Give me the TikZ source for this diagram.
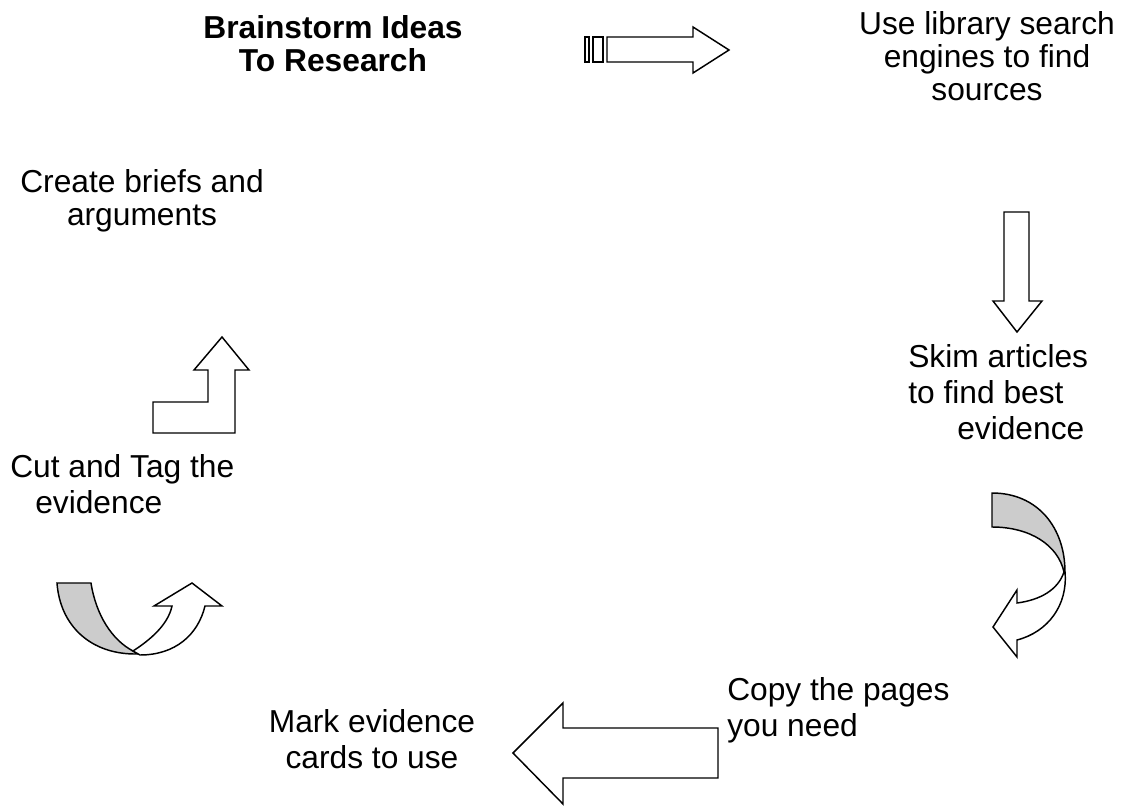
\documentclass[tikz,border=0pt]{standalone}
\usepackage{fontspec}
\setmainfont{Liberation Sans}
\definecolor{bandgray}{HTML}{CCCCCC}
\tikzset{
  steptext/.style={inner sep=0pt, anchor=north, font=\fontsize{23.8}{27}\selectfont},
  blockarrow/.style={draw=black, line width=1.1pt, line join=miter, fill=white},
  bandarrow/.style={draw=black, line width=1.1pt, fill=bandgray}
}
\begin{document}
\begin{tikzpicture}[x=0.75pt,y=-0.75pt]
\useasboundingbox (0,0) rectangle (1140,806);
% texts
\node[steptext, align=center, font=\fontsize{23.8}{24.8}\selectfont\bfseries] (brain) at (333,15){Brainstorm Ideas\\To Research};
\node[steptext, align=center, font=\fontsize{23.8}{24.8}\selectfont] (library) at (987,11){Use library search\\engines to find\\sources};
\node[steptext, align=center, font=\fontsize{23.8}{24.8}\selectfont] (briefs) at (142,169){Create briefs and\\arguments};
\node[steptext, align=left, anchor=north west] (skim) at (908,344){Skim articles\\to find best\\\hspace*{36.75pt}evidence};
\node[steptext, align=left, anchor=north west] (cut) at (10,454){Cut and Tag the\\\hspace*{18.75pt}evidence};
\node[steptext, align=left, anchor=north west] (copy) at (727,677){Copy the pages\\you need};
\node[steptext, align=center] (mark) at (372,709){Mark evidence\\cards to use};

% striped arrow
\draw[blockarrow] (585,37) rectangle (589,62);
\draw[blockarrow] (593,37) rectangle (603,62);
\draw[blockarrow] (607,37) -- (693,37) -- (693,27) -- (729,50) -- (693,73) -- (693,62) -- (607,62) -- cycle;

% down arrow
\draw[blockarrow] (1004,212) -- (1029,212) -- (1029,301) -- (1042,301) -- (1017,332) -- (993,301) -- (1004,301) -- cycle;

% curved arrow right
\draw[bandarrow] (992,493) .. controls (1038,493) and (1065,528) .. (1065,572)
  -- (1064,572) .. controls (1058,545) and (1030,527) .. (992,527) -- cycle;
\draw[blockarrow] (1064,572) .. controls (1058,590) and (1040,600) .. (1017,603)
  -- (1017,590) -- (993,627) -- (1017,657) -- (1017,640)
  .. controls (1048,632) and (1068,605) .. (1065,572) -- cycle;

% big left arrow
\draw[blockarrow] (718,728) -- (718,778) -- (563,778) -- (563,804) -- (513,753) -- (563,703) -- (563,728) -- cycle;

% curved arrow left
\draw[bandarrow] (57,583) -- (91,583) .. controls (96,615) and (112,640) .. (133,651)
  -- (138,654) .. controls (90,655) and (60,625) .. (57,583) -- cycle;
\draw[blockarrow] (133,651) .. controls (150,640) and (168,625) .. (172,606)
  -- (154,606) -- (192,583) -- (222,606) -- (205,606)
  .. controls (198,635) and (175,655) .. (140,655) -- cycle;

% bent up arrow
\draw[blockarrow] (153,402) -- (208,402) -- (208,370) -- (194,370) -- (222,337) -- (249,370) -- (235,370) -- (235,433) -- (153,433) -- cycle;
\end{tikzpicture}
\end{document}
